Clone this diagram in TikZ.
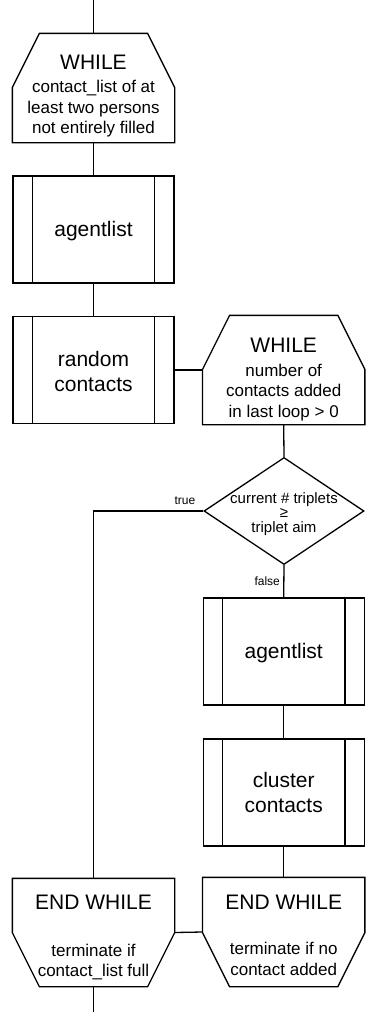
\documentclass[tikz,border=0pt]{standalone}
\usepackage{fontspec}
\setmainfont{Liberation Sans}
\usetikzlibrary{shapes.geometric}
\begin{document}
\begin{tikzpicture}[x=1pt,y=-1pt,line width=1.3pt,
  frame/.style={minimum width=161pt,minimum height=108pt,inner sep=0pt,draw=none},
  subbox/.style={draw,minimum width=161pt,minimum height=107pt,inner sep=0pt},
  decision/.style={draw,diamond,minimum width=160pt,minimum height=107pt,inner sep=0pt},
  title/.style={anchor=base,inner sep=0pt,font=\fontsize{21}{25}\selectfont},
  bigtext/.style={anchor=base,inner sep=0pt,align=center,font=\fontsize{21}{25}\selectfont},
  body/.style={anchor=base,inner sep=0pt,align=center,font=\fontsize{17}{20.3}\selectfont},
  condtext/.style={anchor=base,inner sep=0pt,align=center,font=\fontsize{15}{14.5}\selectfont},
  branch/.style={inner sep=0pt,font=\fontsize{12}{14}\selectfont}]
\useasboundingbox (0,0) rectangle (365,1012);

% frames of the loop headers and loop ends
\node[frame] (w1) at (93.5,88) {};
\node[frame] (w2) at (283.7,370) {};
\node[frame,minimum height=107pt] (e1) at (93.5,932.5) {};
\node[frame] (e2) at (283.7,932) {};

% subroutine boxes
\node[subbox] (a1) at (93.5,229.5) {};
\node[subbox] (rc) at (93.5,370) {};
\node[subbox] (a2) at (283.7,651.5) {};
\node[subbox] (cc) at (283.7,792.5) {};
\foreach \n in {a1,rc,a2,cc}{
  \draw ([xshift=20pt]\n.north west) -- ([xshift=20pt]\n.south west);
  \draw ([xshift=-20pt]\n.north east) -- ([xshift=-20pt]\n.south east);
}

% decision
\node[decision] (d) at (284,511) {};

% WHILE headers: chamfered top corners
\foreach \n in {w1,w2}{
  \draw ([xshift=27pt]\n.north west) -- ([xshift=-27pt]\n.north east)
    -- ([yshift=-54pt]\n.north east) -- (\n.south east) -- (\n.south west)
    -- ([yshift=-54pt]\n.north west) -- cycle;
}
% END WHILE: chamfered bottom corners
\foreach \n in {e1,e2}{
  \draw (\n.north west) -- (\n.north east) -- ([yshift=54pt]\n.south east)
    -- ([xshift=-27pt]\n.south east) -- ([xshift=27pt]\n.south west)
    -- ([yshift=54pt]\n.south west) -- cycle;
}

% texts (multi-line nodes are placed by the baseline of their last line)
\node[title] (w1t) at (93.5,69.3) {WHILE};
\node[body] (w1b) at (93.5,133.3) {contact\_list of at\\least two persons\\not entirely filled};
\node[bigtext] (a1t) at (93.5,236.7) {agentlist};
\node[bigtext] (rct) at (93.5,391) {random\\contacts};
\node[title] (w2t) at (283.7,352) {WHILE};
\node[body] (w2b) at (283.7,417) {number of\\contacts added\\in last loop > 0};
\node[condtext] (dt) at (284,532) {current \# triplets\\≥\\triplet aim};
\node[bigtext] (a2t) at (283.7,658.7) {agentlist};
\node[bigtext] (cct) at (283.7,812) {cluster\\contacts};
\node[title] (e1t) at (93.5,909) {END WHILE};
\node[body] (e1b) at (93.5,976.7) {terminate if\\contact\_list full};
\node[title] (e2t) at (283.7,909) {END WHILE};
\node[body] (e2b) at (283.7,975) {terminate if no\\contact added};

% connectors
\coordinate (start) at (93.5,0);
\coordinate (finish) at (93.5,1012);
\draw (start) -- (w1.north);
\draw (w1.south) -- (a1.north);
\draw (a1.south) -- (rc.north);
\draw (rc.east) -- (w2.west);
\draw (w2.south) -- (d.north);
\draw (d.south) -- (a2.north);
\draw (a2.south) -- (cc.north);
\draw (cc.south) -- (e2.north);
\draw (d.west) -| (e1.north);
\draw (e2.west) -- (e1.east);
\draw (e1.south) -- (finish);

% branch labels
\node[branch,anchor=base] (lt) at (185,504) {true};
\node[branch,anchor=base east] (lf) at (280.5,585) {false};
\end{tikzpicture}
\end{document}
